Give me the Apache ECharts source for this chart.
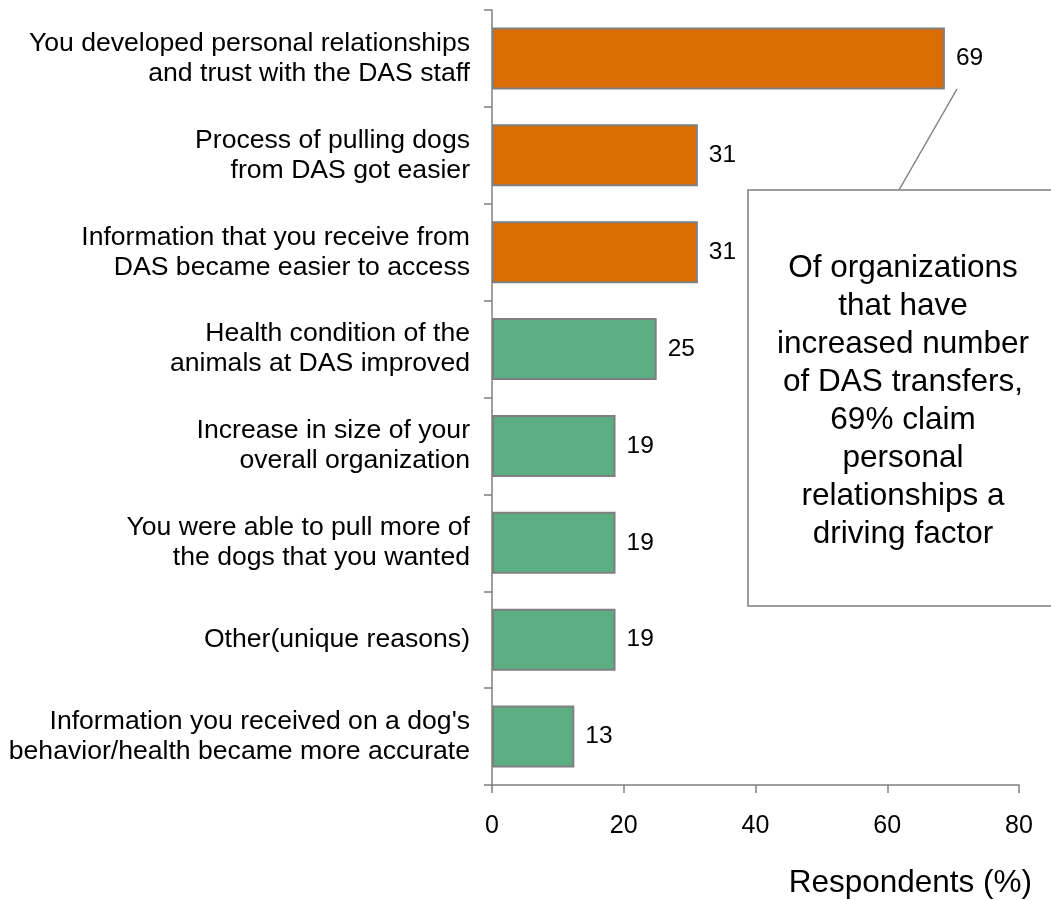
<!DOCTYPE html>
<html>
<head>
<meta charset="utf-8">
<script src="https://cdn.jsdelivr.net/npm/echarts@6/dist/echarts.min.js"></script>
<style>
html,body{margin:0;padding:0;background:#fff;}
#chart{width:1051px;height:900px;}
</style>
</head>
<body>
<div id="chart"></div>
<script>
var categories = [
  "You developed personal relationships\nand trust with the DAS staff",
  "Process of pulling dogs\nfrom DAS got easier",
  "Information that you receive from\nDAS became easier to access",
  "Health condition of the\nanimals at DAS improved",
  "Increase in size of your\noverall organization",
  "You were able to pull more of\nthe dogs that you wanted",
  "Other(unique reasons)",
  "Information you received on a dog's\nbehavior/health became more accurate"
];
var values = [68.75, 31.25, 31.25, 25, 18.75, 18.75, 18.75, 12.5];
var highlight = [true, true, true, false, false, false, false, false];
var xTicks = [0, 20, 40, 60, 80];
var axisTitle = "Respondents (%)";
var noteText = "Of organizations\nthat have\nincreased number\nof DAS transfers,\n69% claim\npersonal\nrelationships a\ndriving factor";

var ORANGE = "#DA6C00", GREEN = "#5BAE82", GREY = "#7F7F7F";
var FONT = "Liberation Sans, Arial, sans-serif";

var chart = echarts.init(document.getElementById('chart'), null, {renderer: 'canvas'});
chart.setOption({
  animation: false,
  backgroundColor: '#fff',
  grid: {left: 492, right: 32, top: 10, bottom: 115, containLabel: false},
  xAxis: {
    type: 'value', min: xTicks[0], max: xTicks[xTicks.length - 1], interval: 20,
    splitLine: {show: false},
    axisLine: {show: true, lineStyle: {color: GREY, width: 1.5}},
    axisTick: {show: true, length: 8, lineStyle: {color: GREY, width: 1.5}},
    axisLabel: {color: '#000', fontSize: 25, fontFamily: FONT, margin: 29},
    name: axisTitle, nameLocation: 'end',
    nameTextStyle: {color: '#000', fontSize: 31.5, fontFamily: FONT, align: 'right', verticalAlign: 'top', padding: [82, 0, 0, 0]},
    nameGap: 13
  },
  yAxis: {
    type: 'category', data: categories, inverse: true,
    axisLine: {show: true, lineStyle: {color: GREY, width: 1.5}},
    axisTick: {show: true, length: 8, lineStyle: {color: GREY, width: 1.5}},
    axisLabel: {color: '#000', fontSize: 26.6, fontFamily: FONT, margin: 22, lineHeight: 30, align: 'right'}
  },
  series: [{
    type: 'bar',
    data: values.map(function (v, i) {
      return {value: v, itemStyle: {color: highlight[i] ? ORANGE : GREEN}};
    }),
    barCategoryGap: '36%',
    itemStyle: {borderColor: GREY, borderWidth: 2},
    label: {
      show: true, position: 'right', distance: 11, color: '#000', fontSize: 24.5, fontFamily: FONT,
      formatter: function (p) { return Math.round(p.value); }
    }
  }],
  graphic: [
    {type: 'line', shape: {x1: 957, y1: 89, x2: 899, y2: 190}, style: {stroke: GREY, lineWidth: 1.5}},
    {type: 'rect', shape: {x: 748, y: 190, width: 320, height: 416}, style: {fill: '#fff', stroke: GREY, lineWidth: 1.5}},
    {type: 'text', x: 903, y: 401, style: {text: noteText, fill: '#000', font: '31.5px ' + FONT, align: 'center', verticalAlign: 'middle', lineHeight: 38}}
  ]
});
</script>
</body>
</html>
